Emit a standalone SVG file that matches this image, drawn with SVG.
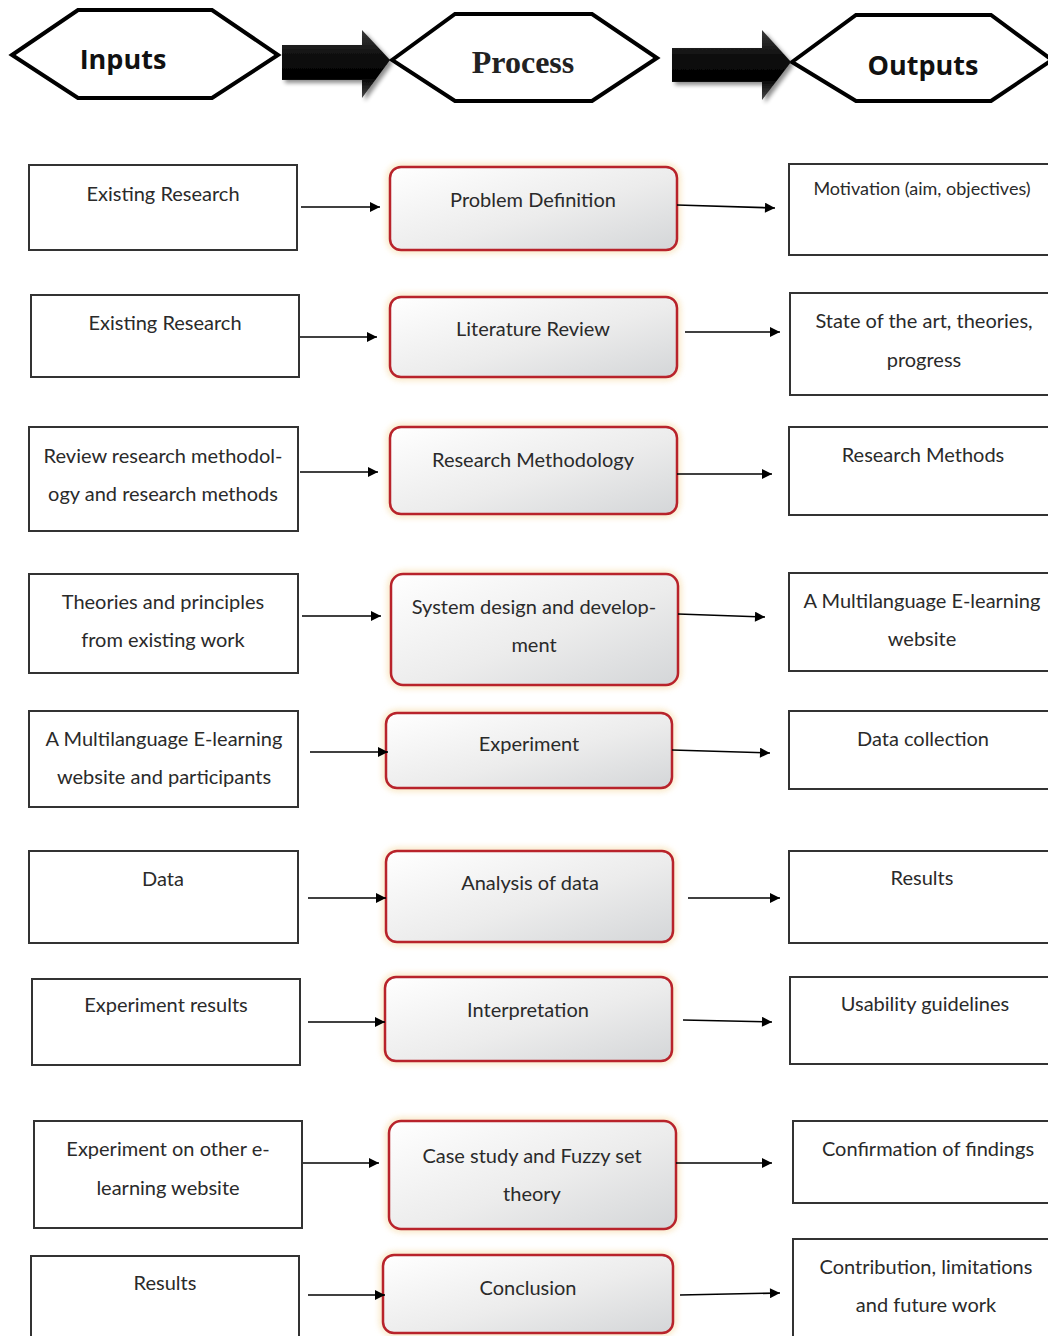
<svg xmlns="http://www.w3.org/2000/svg" width="1048" height="1336" viewBox="0 0 1048 1336">
  <defs>
    <linearGradient id="procFill" x1="0" y1="0" x2="1" y2="1">
      <stop offset="0" stop-color="#ffffff"/>
      <stop offset="0.55" stop-color="#ececec"/>
      <stop offset="1" stop-color="#d4d6d8"/>
    </linearGradient>
    <linearGradient id="bigArrow" x1="0" y1="0" x2="0" y2="1">
      <stop offset="0" stop-color="#3a3a3a"/>
      <stop offset="0.35" stop-color="#111"/>
      <stop offset="0.7" stop-color="#000"/>
      <stop offset="1" stop-color="#4a4a4a"/>
    </linearGradient>
    <filter id="glow" x="-10%" y="-20%" width="120%" height="140%">
      <feGaussianBlur stdDeviation="3"/>
    </filter>
    <filter id="shadow" x="-10%" y="-20%" width="130%" height="150%">
      <feGaussianBlur in="SourceAlpha" stdDeviation="2"/>
      <feOffset dx="3" dy="3"/>
      <feComponentTransfer><feFuncA type="linear" slope="0.45"/></feComponentTransfer>
      <feMerge><feMergeNode/><feMergeNode in="SourceGraphic"/></feMerge>
    </filter>
    <marker id="tip" viewBox="0 0 10 10" refX="10" refY="5" markerWidth="11" markerHeight="10" markerUnits="userSpaceOnUse" orient="auto">
      <path d="M0,0 L10,5 L0,10 Z" fill="#000"/>
    </marker>
  </defs>
  <style>
    .hex { fill: #fff; stroke: #000; stroke-width: 4; stroke-linejoin: miter; }
    .box { fill: #fff; stroke: #333; stroke-width: 2; }
    .proc { fill: url(#procFill); stroke: #b8232b; stroke-width: 2.5; }
    .halo { fill: none; stroke: #f6dca8; stroke-width: 6; opacity: 0.8; }
    .t { font-family: Lato, "Open Sans", "Liberation Sans", sans-serif; font-size: 20px; fill: #2a2a2a; text-anchor: middle; }
    .ts { font-size: 18px; }
    .hs { font-family: "Open Sans", "Liberation Sans", sans-serif; font-weight: bold; font-size: 27px; fill: #111; text-anchor: middle; }
    .hr { font-family: "Liberation Serif", "DejaVu Serif", serif; font-weight: bold; font-size: 32px; fill: #222; text-anchor: middle; }
    .link { stroke: #000; stroke-width: 1.6; fill: none; marker-end: url(#tip); }
  </style>

  <rect width="1048" height="1336" fill="#fff"/>

  <!-- header row: phase labels with block arrows between them -->
  <g id="inputs-header">
    <polygon class="hex" points="12,55 78,10 212,10 278,55 212,98 78,98"/>
    <text class="hs" x="123" y="69">Inputs</text>
  </g>
  <g id="process-header">
    <polygon class="hex" points="392,60 455,14 592,14 657,58 592,101 455,101"/>
    <text class="hr" x="523" y="73">Process</text>
  </g>
  <g id="outputs-header">
    <polygon class="hex" points="792,62 856,15 991,15 1052,60 991,101 856,101"/>
    <text class="hs" x="923" y="75">Outputs</text>
  </g>
  <g id="header-arrows" filter="url(#shadow)">
    <polygon fill="url(#bigArrow)" points="282,45 362,45 362,30 390,60 362,98 362,80 282,80"/>
    <polygon fill="url(#bigArrow)" points="672,48 762,48 762,30 791,62 762,100 762,82 672,82"/>
  </g>

  <!-- inputs column -->
  <g id="in1"><rect class="box" x="29" y="165" width="268" height="85"/><text class="t" x="163" y="201">Existing Research</text></g>
  <g id="in2"><rect class="box" x="31" y="295" width="268" height="82"/><text class="t" x="165" y="330">Existing Research</text></g>
  <g id="in3"><rect class="box" x="29" y="427" width="269" height="104"/><text class="t" x="163" y="463">Review research methodol-</text><text class="t" x="163" y="501">ogy and research methods</text></g>
  <g id="in4"><rect class="box" x="29" y="574" width="269" height="99"/><text class="t" x="163" y="609">Theories and principles</text><text class="t" x="163" y="647">from existing work</text></g>
  <g id="in5"><rect class="box" x="29" y="711" width="269" height="96"/><text class="t" x="164" y="746">A Multilanguage E-learning</text><text class="t" x="164" y="784">website and participants</text></g>
  <g id="in6"><rect class="box" x="29" y="851" width="269" height="92"/><text class="t" x="163" y="886">Data</text></g>
  <g id="in7"><rect class="box" x="32" y="979" width="268" height="86"/><text class="t" x="166" y="1012">Experiment results</text></g>
  <g id="in8"><rect class="box" x="34" y="1121" width="268" height="107"/><text class="t" x="168" y="1156">Experiment on other e-</text><text class="t" x="168" y="1195">learning website</text></g>
  <g id="in9"><rect class="box" x="31" y="1256" width="268" height="90"/><text class="t" x="165" y="1290">Results</text></g>

  <!-- process column -->
  <g id="p1"><rect class="halo" x="390" y="167" width="287" height="83" rx="11" filter="url(#glow)"/><rect class="proc" x="390" y="167" width="287" height="83" rx="11"/><text class="t" x="533" y="207">Problem Definition</text></g>
  <g id="p2"><rect class="halo" x="390" y="297" width="287" height="80" rx="11" filter="url(#glow)"/><rect class="proc" x="390" y="297" width="287" height="80" rx="11"/><text class="t" x="533" y="336">Literature Review</text></g>
  <g id="p3"><rect class="halo" x="390" y="427" width="287" height="87" rx="11" filter="url(#glow)"/><rect class="proc" x="390" y="427" width="287" height="87" rx="11"/><text class="t" x="533" y="467">Research Methodology</text></g>
  <g id="p4"><rect class="halo" x="391" y="574" width="287" height="111" rx="12" filter="url(#glow)"/><rect class="proc" x="391" y="574" width="287" height="111" rx="12"/><text class="t" x="534" y="614">System design and develop-</text><text class="t" x="534" y="652">ment</text></g>
  <g id="p5"><rect class="halo" x="386" y="713" width="286" height="75" rx="11" filter="url(#glow)"/><rect class="proc" x="386" y="713" width="286" height="75" rx="11"/><text class="t" x="529" y="751">Experiment</text></g>
  <g id="p6"><rect class="halo" x="386" y="851" width="287" height="91" rx="11" filter="url(#glow)"/><rect class="proc" x="386" y="851" width="287" height="91" rx="11"/><text class="t" x="530" y="890">Analysis of data</text></g>
  <g id="p7"><rect class="halo" x="385" y="977" width="287" height="84" rx="11" filter="url(#glow)"/><rect class="proc" x="385" y="977" width="287" height="84" rx="11"/><text class="t" x="528" y="1017">Interpretation</text></g>
  <g id="p8"><rect class="halo" x="389" y="1121" width="287" height="108" rx="12" filter="url(#glow)"/><rect class="proc" x="389" y="1121" width="287" height="108" rx="12"/><text class="t" x="532" y="1163">Case study and Fuzzy set</text><text class="t" x="532" y="1201">theory</text></g>
  <g id="p9"><rect class="halo" x="383" y="1255" width="290" height="78" rx="11" filter="url(#glow)"/><rect class="proc" x="383" y="1255" width="290" height="78" rx="11"/><text class="t" x="528" y="1295">Conclusion</text></g>

  <!-- outputs column -->
  <g id="o1"><rect class="box" x="789" y="164" width="270" height="91"/><text class="t ts" x="922" y="195">Motivation (aim, objectives)</text></g>
  <g id="o2"><rect class="box" x="790" y="293" width="270" height="102"/><text class="t" x="924" y="328">State of the art, theories,</text><text class="t" x="924" y="367">progress</text></g>
  <g id="o3"><rect class="box" x="789" y="427" width="270" height="88"/><text class="t" x="923" y="462">Research Methods</text></g>
  <g id="o4"><rect class="box" x="789" y="573" width="270" height="98"/><text class="t" x="922" y="608">A Multilanguage E-learning</text><text class="t" x="922" y="646">website</text></g>
  <g id="o5"><rect class="box" x="789" y="711" width="270" height="78"/><text class="t" x="923" y="746">Data collection</text></g>
  <g id="o6"><rect class="box" x="789" y="851" width="270" height="92"/><text class="t" x="922" y="885">Results</text></g>
  <g id="o7"><rect class="box" x="790" y="977" width="270" height="87"/><text class="t" x="925" y="1011">Usability guidelines</text></g>
  <g id="o8"><rect class="box" x="793" y="1121" width="270" height="82"/><text class="t" x="928" y="1156">Confirmation of findings</text></g>
  <g id="o9"><rect class="box" x="793" y="1239" width="270" height="110"/><text class="t" x="926" y="1274">Contribution, limitations</text><text class="t" x="926" y="1312">and future work</text></g>

  <!-- connectors -->
  <g id="connectors">
    <line class="link" x1="301" y1="207" x2="380" y2="207"/>
    <line class="link" x1="677" y1="205" x2="775" y2="208"/>
    <line class="link" x1="300" y1="337" x2="377" y2="337"/>
    <line class="link" x1="685" y1="332" x2="780" y2="332"/>
    <line class="link" x1="300" y1="472" x2="378" y2="472"/>
    <line class="link" x1="677" y1="474" x2="772" y2="474"/>
    <line class="link" x1="302" y1="616" x2="381" y2="616"/>
    <line class="link" x1="678" y1="614" x2="765" y2="617"/>
    <line class="link" x1="310" y1="752" x2="388" y2="752"/>
    <line class="link" x1="672" y1="750" x2="770" y2="753"/>
    <line class="link" x1="308" y1="898" x2="386" y2="898"/>
    <line class="link" x1="688" y1="898" x2="780" y2="898"/>
    <line class="link" x1="308" y1="1022" x2="385" y2="1022"/>
    <line class="link" x1="683" y1="1020" x2="772" y2="1022"/>
    <line class="link" x1="303" y1="1163" x2="379" y2="1163"/>
    <line class="link" x1="676" y1="1163" x2="772" y2="1163"/>
    <line class="link" x1="308" y1="1295" x2="385" y2="1295"/>
    <line class="link" x1="680" y1="1295" x2="780" y2="1293"/>
  </g>
</svg>
